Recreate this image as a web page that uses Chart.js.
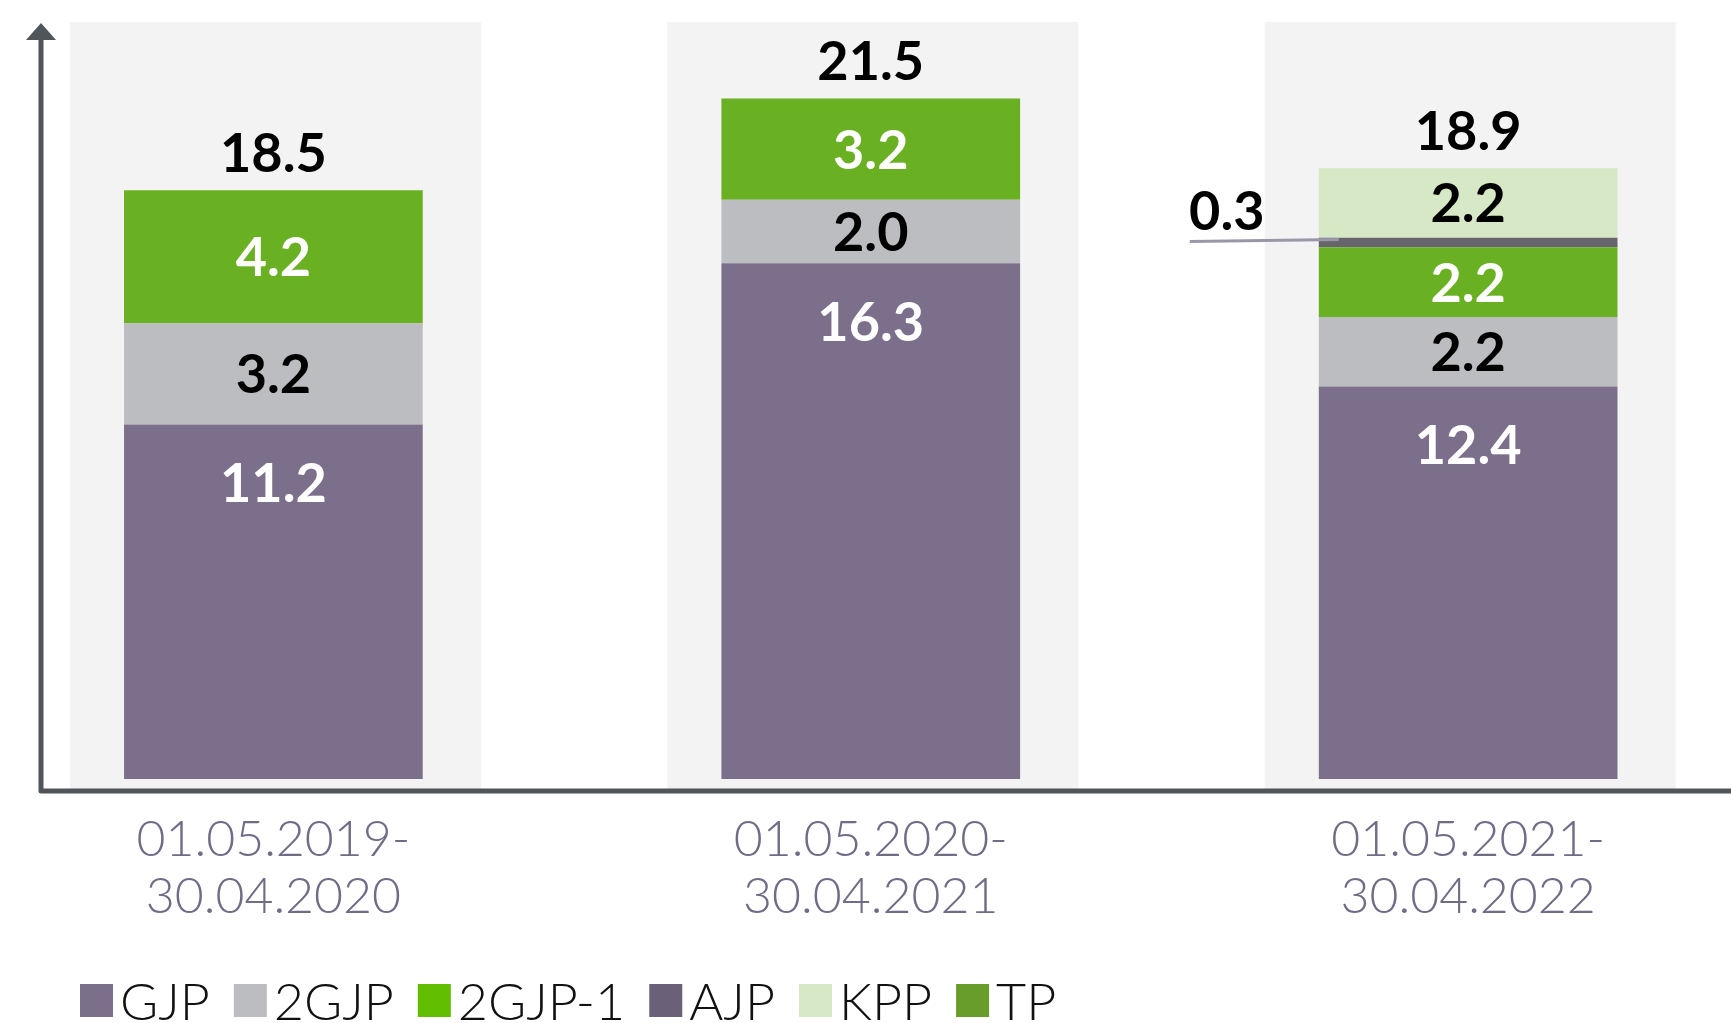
<!DOCTYPE html>
<html>
<head>
<meta charset="utf-8">
<script src="https://cdn.jsdelivr.net/npm/chart.js@4.4.0/dist/chart.umd.min.js"></script>
<style>
  html, body { margin: 0; padding: 0; background: #fff; }
</style>
</head>
<body>
<canvas id="chart" width="1731" height="1023"></canvas>
<script>
// periods on the x axis
const periods = [["01.05.2019-", "30.04.2020"], ["01.05.2020-", "30.04.2021"], ["01.05.2021-", "30.04.2022"]];
// series values
const gjp    = [11.2, 16.3, 12.4];
const gjp2   = [3.2, 2.0, 2.2];
const gjp2_1 = [4.2, 3.2, 2.2];
const ajp    = [null, null, 0.3];
const kpp    = [null, null, 2.2];
const tp     = [null, null, null];
// totals as printed above the bars
const totals = [18.5, 21.5, 18.9];

const toXY = arr => arr.map((v, i) => ({ x: i, y: v }));

const AXIS = '#50555a';

// grey panels behind each bar
const panels = {
  id: 'panels',
  beforeDatasetsDraw(chart) {
    const { ctx, chartArea, scales: { x } } = chart;
    const step = x.getPixelForValue(1) - x.getPixelForValue(0);
    ctx.save();
    ctx.fillStyle = '#f2f3f2';
    periods.forEach((p, i) => {
      const cx = x.getPixelForValue(i) + 2;
      ctx.fillRect(cx - step * 0.344, chartArea.top, step * 0.688, chartArea.bottom - chartArea.top);
    });
    ctx.restore();
  }
};

// axis lines with arrow
const axes = {
  id: 'axes',
  afterDatasetsDraw(chart) {
    const { ctx, chartArea } = chart;
    ctx.save();
    ctx.strokeStyle = AXIS;
    ctx.lineWidth = 5;
    ctx.lineJoin = 'round';
    ctx.beginPath();
    ctx.moveTo(chartArea.left, chartArea.top + 14);
    ctx.lineTo(chartArea.left, chartArea.bottom);
    ctx.lineTo(chartArea.right, chartArea.bottom);
    ctx.stroke();
    ctx.fillStyle = AXIS;
    ctx.beginPath();
    ctx.moveTo(chartArea.left, chartArea.top + 1);
    ctx.lineTo(chartArea.left - 15, chartArea.top + 18);
    ctx.lineTo(chartArea.left + 15, chartArea.top + 18);
    ctx.closePath();
    ctx.fill();
    ctx.restore();
  }
};

// value labels inside / above the bars
const valueLabels = {
  id: 'valueLabels',
  afterDatasetsDraw(chart) {
    const { ctx } = chart;
    const tops = [];
    ctx.save();
    ctx.font = '700 54px Lato, "Open Sans", sans-serif';
    ctx.textAlign = 'center';
    ctx.textBaseline = 'middle';
    chart.data.datasets.forEach((ds, di) => {
      const meta = chart.getDatasetMeta(di);
      meta.data.forEach((bar, i) => {
        const v = ds.data[i].y;
        if (v == null) return;
        const { x, y, base, width } = bar.getProps(['x', 'y', 'base', 'width'], true);
        tops[i] = tops[i] == null ? y : Math.min(tops[i], y);
        const txt = v.toFixed(1);
        ctx.fillStyle = ds.labelColor;
        if (ds.labelPos === 'top') {
          ctx.fillText(txt, x, y + 60);
        } else if (ds.labelPos === 'side') {
          const ly = (y + base) / 2;
          const left = x - width / 2;
          ctx.strokeStyle = '#9a98a8';
          ctx.lineWidth = 3;
          ctx.beginPath();
          ctx.moveTo(left - 129, ly - 1);
          ctx.lineTo(left + 20, ly - 3);
          ctx.stroke();
          ctx.fillStyle = '#000';
          ctx.fillText(txt, left - 92, ly - 30);
        } else {
          ctx.fillText(txt, x, (y + base) / 2 + 2);
        }
      });
    });
    const xs = chart.scales.x;
    ctx.fillStyle = '#000';
    totals.forEach((t, i) => {
      ctx.fillText(t.toFixed(1), xs.getPixelForValue(i), tops[i] - 36);
    });
    ctx.restore();
  }
};

// legend row at the bottom
const legendRow = {
  id: 'legendRow',
  afterDraw(chart) {
    const { ctx } = chart;
    ctx.save();
    ctx.font = '300 52px Lato, sans-serif';
    ctx.textBaseline = 'middle';
    let x = 80;
    const yc = 1001;
    chart.data.datasets.forEach(ds => {
      ctx.fillStyle = ds.legendColor;
      ctx.fillRect(x, yc - 17, 33, 33);
      ctx.fillStyle = '#111';
      ctx.fillText(ds.label, x + 40, yc + 2);
      x += 40 + ctx.measureText(ds.label).width + 24;
    });
    ctx.restore();
  }
};

new Chart(document.getElementById('chart'), {
  type: 'bar',
  data: {
    datasets: [
      { label: 'GJP',    data: toXY(gjp),    backgroundColor: '#7c6f8b', legendColor: '#7c6f8b', labelColor: '#fff', labelPos: 'top' },
      { label: '2GJP',   data: toXY(gjp2),   backgroundColor: '#bcbdc0', legendColor: '#bcbdc0', labelColor: '#000' },
      { label: '2GJP-1', data: toXY(gjp2_1), backgroundColor: '#6ab023', legendColor: '#62be00', labelColor: '#fff' },
      { label: 'AJP',    data: toXY(ajp),    backgroundColor: '#67646c', legendColor: '#6a6078', labelColor: '#000', labelPos: 'side' },
      { label: 'KPP',    data: toXY(kpp),    backgroundColor: '#d7e8c6', legendColor: '#d7e8c6', labelColor: '#000' },
      { label: 'TP',     data: toXY(tp),     backgroundColor: '#689c2b', legendColor: '#689c2b', labelColor: '#fff' }
    ]
  },
  options: {
    responsive: false,
    animation: false,
    devicePixelRatio: 1,
    categoryPercentage: 1,
    barPercentage: 0.5,
    layout: { padding: { left: 41, top: 22, right: 0, bottom: 78 } },
    plugins: {
      legend: { display: false },
      tooltip: { enabled: false }
    },
    scales: {
      x: {
        type: 'linear',
        stacked: true,
        min: -0.389,
        max: 2.44,
        offset: false,
        grid: { display: false, drawTicks: false },
        border: { display: false },
        afterBuildTicks: scale => { scale.ticks = periods.map((p, i) => ({ value: i })); },
        ticks: {
          autoSkip: false,
          maxRotation: 0,
          padding: 20,
          color: '#6f6c86',
          font: { family: 'Lato, sans-serif', size: 50, weight: '300', lineHeight: 1.14 },
          callback: v => periods[v]
        }
      },
      y: {
        display: false,
        stacked: true,
        min: -0.38,
        max: 23.92
      }
    }
  },
  plugins: [panels, axes, valueLabels, legendRow]
});
</script>
</body>
</html>
